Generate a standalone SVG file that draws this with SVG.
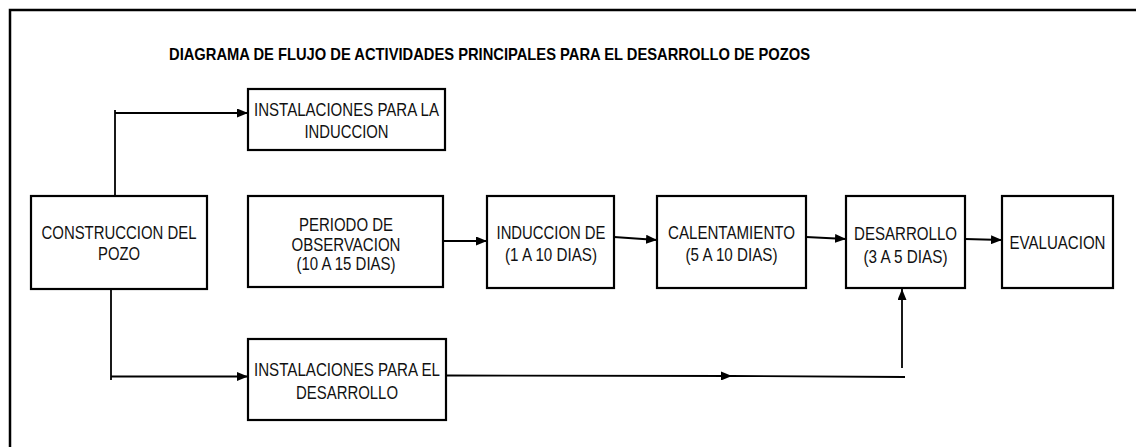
<svg xmlns="http://www.w3.org/2000/svg" width="1136" height="447" viewBox="0 0 1136 447">
<style>
.frame{fill:none;stroke:#000;stroke-width:2.5}
.box{fill:#fff;stroke:#000;stroke-width:2.2}
.t{font-family:"Liberation Sans Narrow","Liberation Sans",Arial,sans-serif;font-size:19px;fill:#111;text-anchor:middle}
.title{font-family:"Liberation Sans",Arial,sans-serif;font-size:16.5px;font-weight:bold;fill:#000;text-anchor:middle}
.c{fill:none;stroke:#000;stroke-width:1.8}
</style>
<defs>
<marker id="ah" viewBox="0 0 11 9" refX="11" refY="4.5" markerWidth="11" markerHeight="9" markerUnits="userSpaceOnUse" orient="auto">
<path d="M0,0 L11,4.5 L0,9 z" fill="#000"/>
</marker>
</defs>
<rect width="1136" height="447" fill="#fff"/>
<path class="frame" d="M10,447 V10 H1136"/>
<text class="title" x="489.5" y="60" textLength="641" lengthAdjust="spacingAndGlyphs">DIAGRAMA DE FLUJO DE ACTIVIDADES PRINCIPALES PARA EL DESARROLLO DE POZOS</text>

<g id="connectors">
<path class="c" d="M115,195 V110"/>
<path class="c" d="M115,113 H248" marker-end="url(#ah)"/>
<path class="c" d="M111,289 V380"/>
<path class="c" d="M111,376.5 H248" marker-end="url(#ah)"/>
<path class="c" d="M446,375.5 L732,376" marker-end="url(#ah)"/>
<path class="c" d="M732,376 L905,377"/>
<path class="c" d="M902,368 V289" marker-end="url(#ah)"/>
<path class="c" d="M443,241 H487" marker-end="url(#ah)"/>
<path class="c" d="M614,237 L657,240" marker-end="url(#ah)"/>
<path class="c" d="M806,237 L846,239" marker-end="url(#ah)"/>
<path class="c" d="M965,239 L1002,240" marker-end="url(#ah)"/>
</g>

<g id="inst-induccion">
<rect class="box" x="248" y="89" width="197" height="61"/>
<text class="t" x="346.5" y="115.5" textLength="185" lengthAdjust="spacingAndGlyphs">INSTALACIONES PARA LA</text>
<text class="t" x="346.5" y="137.5" textLength="84" lengthAdjust="spacingAndGlyphs">INDUCCION</text>
</g>

<g id="construccion">
<rect class="box" x="31" y="196" width="176" height="93"/>
<text class="t" x="119" y="239" textLength="155" lengthAdjust="spacingAndGlyphs">CONSTRUCCION DEL</text>
<text class="t" x="119" y="260" textLength="42" lengthAdjust="spacingAndGlyphs">POZO</text>
</g>

<g id="periodo">
<rect class="box" x="248" y="196" width="195" height="91"/>
<text class="t" x="346" y="230.5" textLength="94" lengthAdjust="spacingAndGlyphs">PERIODO DE</text>
<text class="t" x="346" y="250.5" textLength="109" lengthAdjust="spacingAndGlyphs">OBSERVACION</text>
<text class="t" x="346" y="270" textLength="99" lengthAdjust="spacingAndGlyphs">(10 A 15 DIAS)</text>
</g>

<g id="induccion">
<rect class="box" x="487" y="196" width="127" height="92"/>
<text class="t" x="551" y="238.5" textLength="109" lengthAdjust="spacingAndGlyphs">INDUCCION DE</text>
<text class="t" x="551" y="260.5" textLength="92" lengthAdjust="spacingAndGlyphs">(1 A 10 DIAS)</text>
</g>

<g id="calentamiento">
<rect class="box" x="657" y="196" width="149" height="92"/>
<text class="t" x="731.5" y="238.5" textLength="127" lengthAdjust="spacingAndGlyphs">CALENTAMIENTO</text>
<text class="t" x="731.5" y="260.5" textLength="92" lengthAdjust="spacingAndGlyphs">(5 A 10 DIAS)</text>
</g>

<g id="desarrollo">
<rect class="box" x="846" y="196" width="119" height="92"/>
<text class="t" x="905.5" y="239.5" textLength="103" lengthAdjust="spacingAndGlyphs">DESARROLLO</text>
<text class="t" x="905.5" y="262.5" textLength="84" lengthAdjust="spacingAndGlyphs">(3 A 5 DIAS)</text>
</g>

<g id="evaluacion">
<rect class="box" x="1002" y="196" width="111" height="92"/>
<text class="t" x="1057.5" y="248.5" textLength="96" lengthAdjust="spacingAndGlyphs">EVALUACION</text>
</g>

<g id="inst-desarrollo">
<rect class="box" x="248" y="339" width="198" height="81"/>
<text class="t" x="347" y="375.5" textLength="186" lengthAdjust="spacingAndGlyphs">INSTALACIONES PARA EL</text>
<text class="t" x="347" y="398.5" textLength="102" lengthAdjust="spacingAndGlyphs">DESARROLLO</text>
</g>
</svg>
